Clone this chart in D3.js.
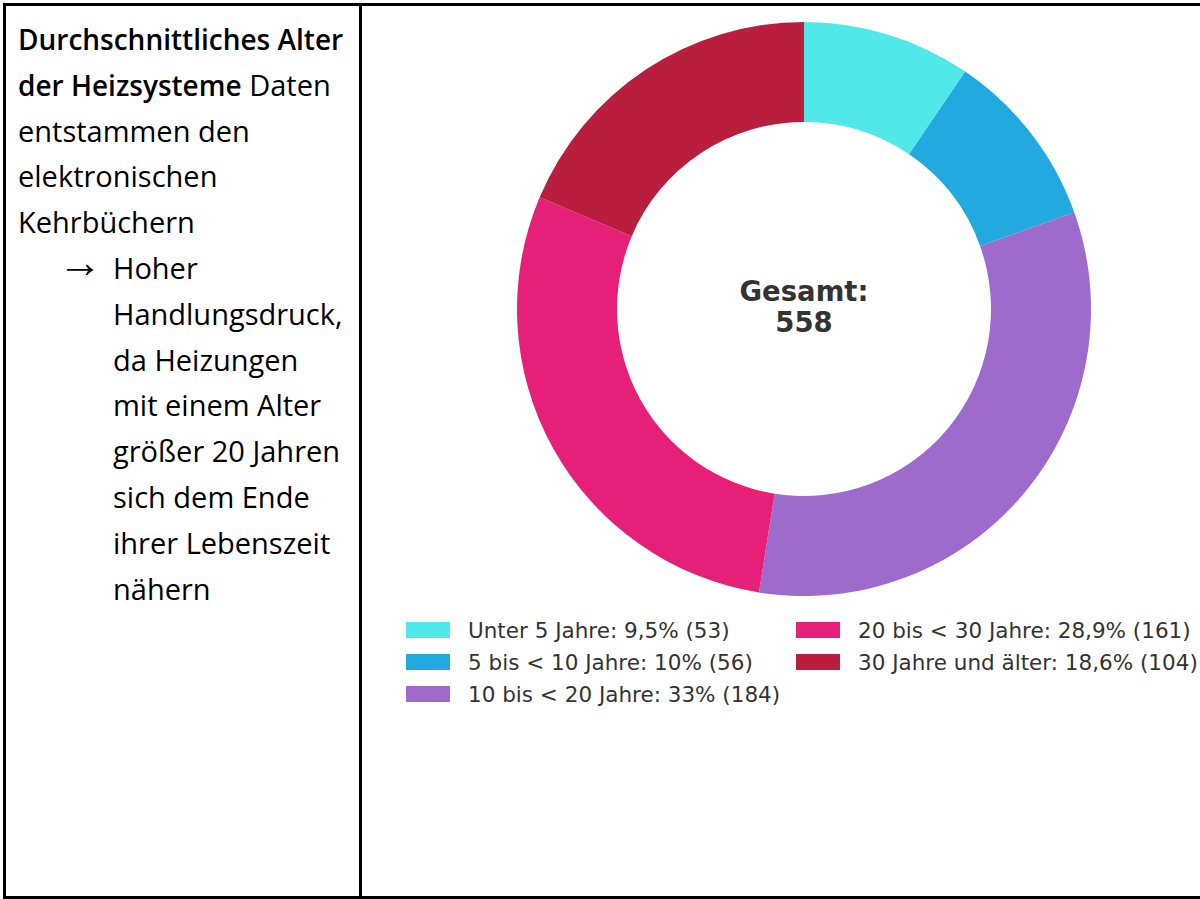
<!DOCTYPE html>
<html>
<head>
<meta charset="utf-8">
<script src="https://cdn.jsdelivr.net/npm/d3@7"></script>
<style>
  html, body { margin: 0; padding: 0; background: #fff; overflow: hidden; width: 1200px; height: 899px; }
  #frame { position: absolute; left: 3px; top: 3px; width: 1400px; height: 896px; border: 3px solid #000; box-sizing: border-box; }
  #left { position: absolute; left: 0; top: 0; width: 353px; height: 100%; border-right: 3px solid #000; }
  #note { position: absolute; left: 12px; top: 10px; font-family: "Open Sans", sans-serif; font-size: 29px; line-height: 45.8px; color: #000; white-space: nowrap; }
  #note div.line { height: 45.8px; }
  #note b { font-weight: 600; font-size: 28px; }
  #note .item { position: relative; padding-left: 95px; }
  #note .arrow { position: absolute; left: 40px; top: -5px; font-family: "Liberation Serif", serif; font-size: 44px; line-height: 45.8px; }
  #chart { position: absolute; left: 0; top: 0; }
</style>
</head>
<body>
<div id="frame"><div id="left"><div id="note"></div></div></div>
<svg id="chart" width="1200" height="899"></svg>
<script>
// data
const categories = ['Unter 5 Jahre', '5 bis < 10 Jahre', '10 bis < 20 Jahre', '20 bis < 30 Jahre', '30 Jahre und älter'];
const counts = [53, 56, 184, 161, 104];
const shares = ['9,5%', '10%', '33%', '28,9%', '18,6%'];
const colors = ['#50e8e8', '#22aae0', '#9e6acc', '#e62078', '#ba1e3e'];
const titleLines = ['Durchschnittliches Alter', 'der Heizsysteme'];
const noteLines = ['Daten', 'entstammen den', 'elektronischen', 'Kehrbüchern'];
const bulletLines = ['Hoher', 'Handlungsdruck,', 'da Heizungen', 'mit einem Alter', 'größer 20 Jahren', 'sich dem Ende', 'ihrer Lebenszeit', 'nähern'];

// left text panel
const note = d3.select('#note');
note.append('div').attr('class', 'line').html(`<b>${titleLines[0]}</b>`);
note.append('div').attr('class', 'line').html(`<b>${titleLines[1]}</b> ${noteLines[0]}`);
noteLines.slice(1).forEach(t => note.append('div').attr('class', 'line').text(t));
const item = note.append('div').attr('class', 'item');
item.append('span').attr('class', 'arrow').text('→');
bulletLines.forEach(t => item.append('div').attr('class', 'line').text(t));

// donut
const svg = d3.select('#chart');
const cx = 804, cy = 309, rOuter = 287, rInner = 187;
const total = d3.sum(counts);
const pie = d3.pie().sort(null).value(d => d)(counts);
const arc = d3.arc().innerRadius(rInner).outerRadius(rOuter);

const g = svg.append('g').attr('transform', `translate(${cx},${cy})`);
g.selectAll('path').data(pie).join('path')
  .attr('d', arc)
  .attr('fill', (d, i) => colors[i]);

g.append('text')
  .attr('text-anchor', 'middle')
  .attr('y', -8)
  .style('font-family', 'DejaVu Sans')
  .style('font-weight', 'bold')
  .style('font-size', '27.5px')
  .attr('fill', '#333')
  .text('Gesamt:');
g.append('text')
  .attr('text-anchor', 'middle')
  .attr('y', 23)
  .style('font-family', 'DejaVu Sans')
  .style('font-weight', 'bold')
  .style('font-size', '27.5px')
  .attr('fill', '#333')
  .text(total);

// legend, column-major, 3 rows
const legend = svg.append('g').attr('transform', 'translate(406,622)');
const item2 = legend.selectAll('g').data(categories).join('g')
  .attr('transform', (d, i) => `translate(${Math.floor(i / 3) * 390},${(i % 3) * 32})`);
item2.append('rect').attr('width', 44).attr('height', 16).attr('fill', (d, i) => colors[i]);
item2.append('text')
  .attr('x', 62).attr('y', 8)
  .attr('dominant-baseline', 'central')
  .style('font-family', 'DejaVu Sans')
  .style('font-size', '21.5px')
  .attr('fill', '#333')
  .text((d, i) => `${d}: ${shares[i]} (${counts[i]})`);
</script>
</body>
</html>
